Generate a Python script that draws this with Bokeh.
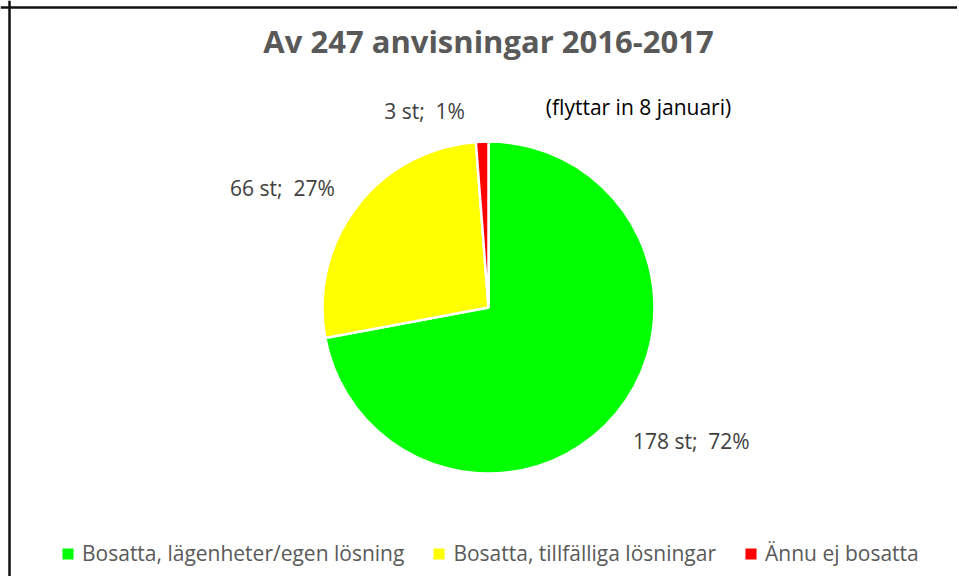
import math
from bokeh.plotting import figure
from bokeh.models import Range1d, Span, Legend, LegendItem, ColumnDataSource
from bokeh.core.properties import value
from bokeh.embed import file_html
from bokeh.resources import INLINE

# ---- data ----
categories = ["Bosatta, lägenheter/egen lösning", "Bosatta, tillfälliga lösningar", "Ännu ej bosatta"]
counts = [178, 66, 3]
colors = ["#00FF00", "#FFFF00", "#FF0000"]
title_text = "Av 247 anvisningar 2016-2017"
note_text = "(flyttar in 8 januari)"

W, H = 957, 576
FONT = "Open Sans"

p = figure(width=W, height=H, output_backend="svg", toolbar_location=None,
           x_range=Range1d(0, W), y_range=Range1d(0, H), min_border=0,
           background_fill_color="white", border_fill_color="white")
p.axis.visible = False
p.grid.visible = False
p.outline_line_color = None

# chart-area frame (top and left edges; right and bottom fall outside the picture)
p.add_layout(Span(location=H - 7, dimension="width", line_color="#111111", line_width=2.5))
p.add_layout(Span(location=9, dimension="height", line_color="#111111", line_width=2.5))

# ---- pie ----
cx, cy, R = 488, H - 307, 166
total = sum(counts)
starts, ends, mids = [], [], []
cum = 0
for c in counts:
    a0 = math.pi / 2 - 2 * math.pi * cum / total
    cum += c
    a1 = math.pi / 2 - 2 * math.pi * cum / total
    starts.append(a0)
    ends.append(a1)
    mids.append((a0 + a1) / 2)

src = ColumnDataSource(dict(x=[cx] * 3, y=[cy] * 3, start=starts, end=ends, color=colors, cat=categories))
wr = p.wedge(x="x", y="y", radius=R, start_angle="start", end_angle="end", direction="clock",
             fill_color="color", line_color="white", line_width=2.5, source=src)

# ---- data labels (placed outside the slices) ----
nudge_deg = [6.3, 7.5, 15.8]
label_r = [243, 238, 207]
lx, ly, lt = [], [], []
for c, m, nd, rr in zip(counts, mids, nudge_deg, label_r):
    a = m + math.radians(nd)
    lx.append(cx + rr * math.cos(a))
    ly.append(cy + rr * math.sin(a))
    lt.append(f"{c} st;\u00a0 {round(100 * c / total)}%")
p.text(x=lx, y=ly, text=lt, text_align="center", text_baseline="middle",
       text_font=value(FONT), text_font_size="21px", text_color="#404040")

# note next to the small slice
p.text(x=[638], y=[H - 106], text=[note_text], text_align="center", text_baseline="middle",
       text_font=value(FONT), text_font_size="21px", text_color="black")

# title
p.text(x=[488], y=[H - 40], text=[title_text], text_align="center", text_baseline="middle",
       text_font=value(FONT), text_font_size="31px", text_font_style="bold", text_color="#595959")

# ---- legend ----
items = [LegendItem(label=categories[i], renderers=[wr], index=i) for i in range(3)]
legend = Legend(items=items, orientation="horizontal", location=(59, 9),
                label_text_font=FONT, label_text_font_size="21px", label_text_color="#595959",
                glyph_width=17, glyph_height=17, label_standoff=6, spacing=26,
                border_line_color=None, background_fill_alpha=0, margin=0, padding=0)
p.add_layout(legend)

open("out.html", "w").write(file_html(p, INLINE))
